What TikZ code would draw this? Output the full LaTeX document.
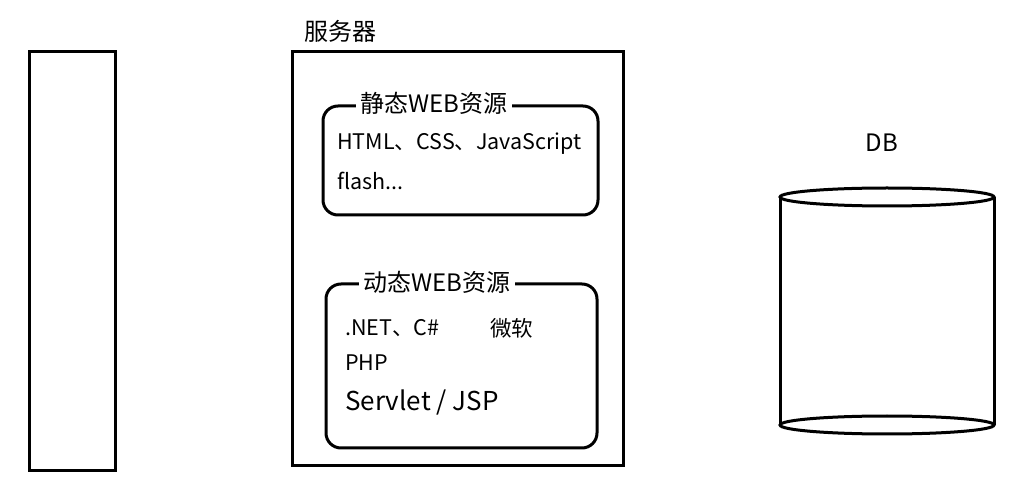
\documentclass[tikz,border=0pt]{standalone}
\usepackage{fontspec}
\setmainfont{Noto Sans CJK SC}
\usetikzlibrary{shapes.geometric}
\begin{document}
\begin{tikzpicture}[x=1pt,y=-1pt,
  box/.style={draw=black,line width=3pt},
  rbox/.style={draw=black,line width=3pt,rounded corners=15pt},
  title/.style={fill=white,inner xsep=5pt,inner ysep=0pt,font=\fontsize{24}{28}\selectfont},
  txt/.style={anchor=west,inner sep=0pt,font=\fontsize{21.5}{26}\selectfont},
  big/.style={anchor=west,inner sep=0pt,font=\fontsize{26}{30}\selectfont}]
\useasboundingbox (0,0) rectangle (1029,494);
% client
\draw[box] (29,52) rectangle (115,470);
% server
\draw[box] (292,52) rectangle (623,465);
\node[inner sep=0pt,font=\fontsize{24}{28}\selectfont] (srv) at (340,31) {服务器};
% static
\draw[rbox] (323,106) rectangle (598,215);
\node[title] (st) at (434,103) {静态WEB资源};
\node[txt] (s1) at (337,144) {HTML、CSS、JavaScript};
\node[txt] (s2) at (337,181) {flash...};
% dynamic
\draw[rbox] (326,284) rectangle (597,448);
\node[title] (dy) at (437,282) {动态WEB资源};
\node[txt] (d1) at (345,328) {.NET、C\#};
\node[txt] (d2) at (490,328) {微软};
\node[txt] (d3) at (345,363) {PHP};
\node[big] (d4) at (345,402) {Servlet / JSP};
% DB
\node[inner sep=0pt,font=\fontsize{24}{28}\selectfont] (db) at (882,143) {DB};
\draw[line width=3pt] (780,197) -- (780,425);
\draw[line width=3pt] (994,197) -- (994,425);
\draw[line width=3pt,fill=white] (887,197) ellipse [x radius=107,y radius=9];
\draw[line width=3pt] (887,425) ellipse [x radius=107,y radius=9];
\end{tikzpicture}
\end{document}
